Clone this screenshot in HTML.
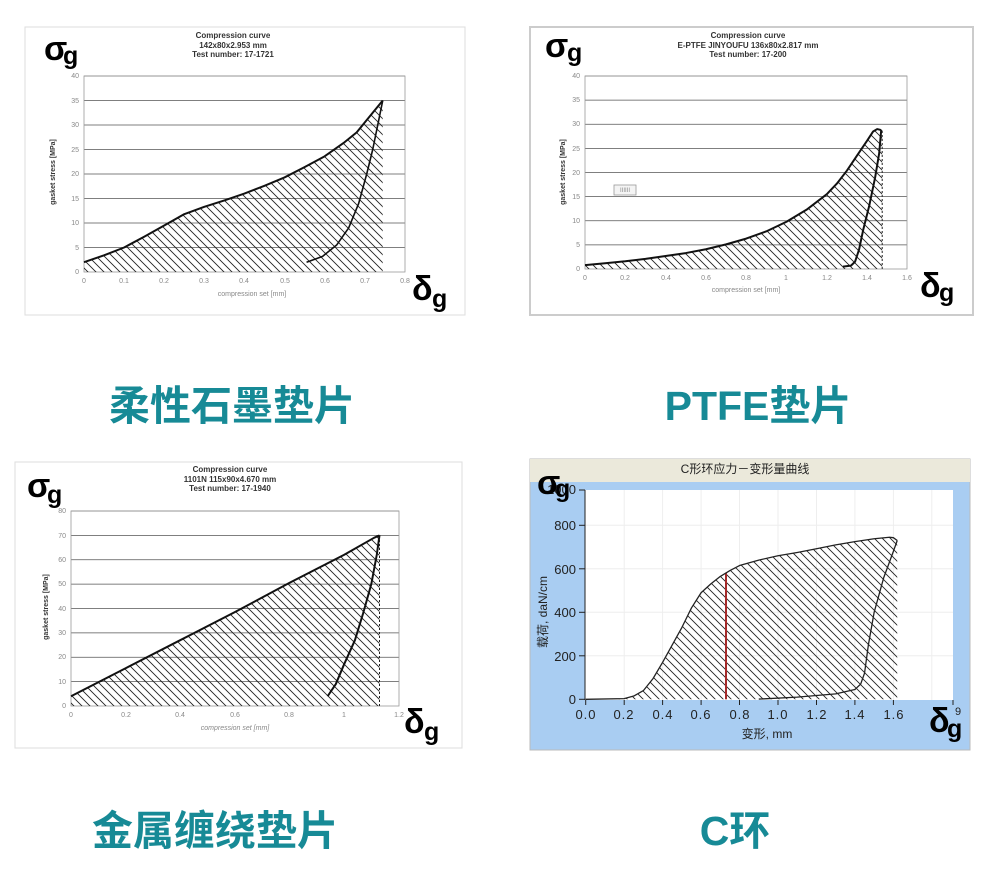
<!DOCTYPE html>
<html><head><meta charset="utf-8"><style>
html,body{margin:0;padding:0;background:#fff;width:989px;height:886px;overflow:hidden}
svg{display:block}
.t{font-family:"Liberation Sans",sans-serif;font-weight:bold;font-size:8px;fill:#333}
.tk{font-family:"Liberation Sans",sans-serif;font-size:7px;fill:#888}
.big{font-family:"Liberation Sans",sans-serif;font-weight:bold;fill:#000}
.cn{font-family:"Liberation Sans","Noto Sans CJK SC",sans-serif;font-weight:bold;font-size:41px;fill:#178a96}
.c4{font-family:"Liberation Sans","Noto Sans CJK SC",sans-serif;font-size:13px;fill:#222}
</style></head><body>
<svg width="989" height="886" viewBox="0 0 989 886" xmlns="http://www.w3.org/2000/svg">
<defs>
<pattern id="h" patternUnits="userSpaceOnUse" width="8" height="8">
<path d="M-2,-2 L10,10 M-2,6 L2,10 M6,-2 L10,2" stroke="#222" stroke-width="0.9"/>
</pattern>
<clipPath id="c1"><polygon transform="matrix(401 0 0 -4.9 84 272)" points="0,2 0.05,3.4 0.1,5 0.15,7.2 0.2,9.5 0.25,11.8 0.3,13.3 0.35,14.6 0.4,16 0.45,17.6 0.5,19.3 0.55,21.4 0.6,23.6 0.65,26.5 0.68,28.5 0.71,31.5 0.745,35 0.745,0 0,0"/></clipPath>
<clipPath id="c2"><polygon transform="matrix(201.5 0 0 -4.825 585 269)" points="0,0.8 0.1,1.2 0.2,1.6 0.3,2.1 0.4,2.7 0.5,3.3 0.6,4.1 0.7,5.1 0.8,6.3 0.9,7.8 1.0,9.8 1.1,12.3 1.2,15.5 1.25,17.7 1.3,20.4 1.35,23.5 1.4,26.6 1.43,28.5 1.45,29 1.475,28.8 1.475,0 0,0"/></clipPath>
<clipPath id="c3"><polygon transform="matrix(273 0 0 -2.4375 71 706)" points="0,4 0.2,15.5 0.4,27 0.6,38.5 0.8,50.5 1.0,62 1.11,69 1.13,70 1.13,0 0,0"/></clipPath>
<clipPath id="c4"><polygon transform="matrix(192.3 0 0 -0.2175 585.7 699.3)" points="0,0 0.2,3 0.25,15 0.3,40 0.35,95 0.4,170 0.45,250 0.5,330 0.55,420 0.6,490 0.65,530 0.7,565 0.75,592 0.8,615 0.9,640 1.0,660 1.1,675 1.2,692 1.3,710 1.4,725 1.5,738 1.58,745 1.6,743 1.62,730 1.62,0"/></clipPath>
</defs>

<!-- Chart 1 -->
<rect x="25" y="27" width="440" height="288" fill="#fff" stroke="#ddd"/>
<text class="t" x="233" y="38" text-anchor="middle">Compression curve</text>
<text class="t" x="233" y="48" text-anchor="middle">142x80x2.953 mm</text>
<text class="t" x="233" y="57" text-anchor="middle">Test number: 17-1721</text>
<g stroke="#555" stroke-width="0.8">
<line x1="84" y1="247.5" x2="405" y2="247.5"/><line x1="84" y1="223" x2="405" y2="223"/><line x1="84" y1="198.5" x2="405" y2="198.5"/><line x1="84" y1="174" x2="405" y2="174"/><line x1="84" y1="149.5" x2="405" y2="149.5"/><line x1="84" y1="125" x2="405" y2="125"/><line x1="84" y1="100.5" x2="405" y2="100.5"/><line x1="84" y1="76" x2="405" y2="76"/>
</g>
<rect x="84" y="76" width="321" height="196" fill="none" stroke="#999" stroke-width="0.8"/>
<rect x="80" y="70" width="330" height="210" fill="url(#h)" clip-path="url(#c1)"/>
<g transform="matrix(401 0 0 -4.9 84 272)" fill="none" stroke="#111" stroke-width="2" vector-effect="non-scaling-stroke" stroke-linejoin="round">
<polyline vector-effect="non-scaling-stroke" points="0,2 0.05,3.4 0.1,5 0.15,7.2 0.2,9.5 0.25,11.8 0.3,13.3 0.35,14.6 0.4,16 0.45,17.6 0.5,19.3 0.55,21.4 0.6,23.6 0.65,26.5 0.68,28.5 0.71,31.5 0.745,35"/>
<polyline vector-effect="non-scaling-stroke" stroke-width="1.6" points="0.745,35 0.735,31 0.72,25 0.705,20 0.685,14 0.66,9 0.63,5.5 0.595,3.2 0.555,2"/>
</g>
<g class="tk" text-anchor="end">
<text x="79" y="274">0</text><text x="79" y="250">5</text><text x="79" y="225">10</text><text x="79" y="201">15</text><text x="79" y="176">20</text><text x="79" y="152">25</text><text x="79" y="127">30</text><text x="79" y="103">35</text><text x="79" y="78">40</text>
</g>
<g class="tk" text-anchor="middle">
<text x="84" y="283">0</text><text x="124" y="283">0.1</text><text x="164" y="283">0.2</text><text x="204" y="283">0.3</text><text x="244" y="283">0.4</text><text x="285" y="283">0.5</text><text x="325" y="283">0.6</text><text x="365" y="283">0.7</text><text x="405" y="283">0.8</text>
</g>
<text class="tk" x="252" y="296" text-anchor="middle" fill="#444">compression set [mm]</text>
<text class="tk" transform="translate(55,172) rotate(-90)" text-anchor="middle" style="fill:#333;font-weight:bold">gasket stress [MPa]</text>
<text class="big" x="44" y="60" font-size="34">σ</text><text class="big" x="63" y="64" font-size="25">g</text>
<text class="big" x="412" y="300" font-size="34">δ</text><text class="big" x="432" y="307" font-size="25">g</text>

<!-- Chart 2 -->
<rect x="530" y="27" width="443" height="288" fill="#fff" stroke="#ccc" stroke-width="2"/>
<text class="t" x="748" y="38" text-anchor="middle">Compression curve</text>
<text class="t" x="748" y="48" text-anchor="middle">E-PTFE JINYOUFU 136x80x2.817 mm</text>
<text class="t" x="748" y="57" text-anchor="middle">Test number: 17-200</text>
<g stroke="#555" stroke-width="0.8">
<line x1="585" y1="244.9" x2="907" y2="244.9"/><line x1="585" y1="220.75" x2="907" y2="220.75"/><line x1="585" y1="196.6" x2="907" y2="196.6"/><line x1="585" y1="172.5" x2="907" y2="172.5"/><line x1="585" y1="148.4" x2="907" y2="148.4"/><line x1="585" y1="124.25" x2="907" y2="124.25"/><line x1="585" y1="100.1" x2="907" y2="100.1"/><line x1="585" y1="76" x2="907" y2="76"/>
</g>
<rect x="585" y="76" width="322" height="193" fill="none" stroke="#999" stroke-width="0.8"/>
<rect x="614" y="185" width="22" height="10" fill="#f4f4f4" stroke="#999" stroke-width="0.8"/>
<text class="tk" x="625" y="192" text-anchor="middle" style="font-size:6px">IIIIII</text>
<rect x="580" y="70" width="330" height="205" fill="url(#h)" clip-path="url(#c2)"/>
<line x1="882.2" y1="269" x2="882.2" y2="130" stroke="#222" stroke-width="1" stroke-dasharray="2,2"/>
<g transform="matrix(201.5 0 0 -4.825 585 269)" fill="none" stroke="#111" stroke-width="2" stroke-linejoin="round">
<polyline vector-effect="non-scaling-stroke" points="0,0.8 0.1,1.2 0.2,1.6 0.3,2.1 0.4,2.7 0.5,3.3 0.6,4.1 0.7,5.1 0.8,6.3 0.9,7.8 1.0,9.8 1.1,12.3 1.2,15.5 1.25,17.7 1.3,20.4 1.35,23.5 1.4,26.6 1.43,28.5 1.45,29 1.47,28.8"/>
<polyline vector-effect="non-scaling-stroke" points="1.47,28.8 1.46,24 1.44,19 1.41,13 1.38,8 1.36,4 1.34,1.5 1.32,0.7 1.28,0.5"/>
</g>
<g class="tk" text-anchor="end">
<text x="580" y="271">0</text><text x="580" y="247">5</text><text x="580" y="223">10</text><text x="580" y="199">15</text><text x="580" y="175">20</text><text x="580" y="151">25</text><text x="580" y="126">30</text><text x="580" y="102">35</text><text x="580" y="78">40</text>
</g>
<g class="tk" text-anchor="middle">
<text x="585" y="280">0</text><text x="625" y="280">0.2</text><text x="666" y="280">0.4</text><text x="706" y="280">0.6</text><text x="746" y="280">0.8</text><text x="786" y="280">1</text><text x="827" y="280">1.2</text><text x="867" y="280">1.4</text><text x="907" y="280">1.6</text>
</g>
<text class="tk" x="746" y="292" text-anchor="middle" fill="#444">compression set [mm]</text>
<text class="tk" transform="translate(565,172) rotate(-90)" text-anchor="middle" style="fill:#333;font-weight:bold">gasket stress [MPa]</text>
<text class="big" x="545" y="57" font-size="34">σ</text><text class="big" x="567" y="61" font-size="25">g</text>
<text class="big" x="920" y="297" font-size="34">δ</text><text class="big" x="939" y="301" font-size="25">g</text>

<!-- Chart 3 -->
<rect x="15" y="462" width="447" height="286" fill="#fff" stroke="#ddd"/>
<text class="t" x="230" y="472" text-anchor="middle">Compression curve</text>
<text class="t" x="230" y="482" text-anchor="middle">1101N 115x90x4.670 mm</text>
<text class="t" x="230" y="491" text-anchor="middle">Test number: 17-1940</text>
<g stroke="#555" stroke-width="0.8">
<line x1="71" y1="681.6" x2="399" y2="681.6"/><line x1="71" y1="657.25" x2="399" y2="657.25"/><line x1="71" y1="632.9" x2="399" y2="632.9"/><line x1="71" y1="608.5" x2="399" y2="608.5"/><line x1="71" y1="584.1" x2="399" y2="584.1"/><line x1="71" y1="559.75" x2="399" y2="559.75"/><line x1="71" y1="535.4" x2="399" y2="535.4"/><line x1="71" y1="511" x2="399" y2="511"/>
</g>
<rect x="71" y="511" width="328" height="195" fill="none" stroke="#999" stroke-width="0.8"/>
<rect x="65" y="505" width="340" height="205" fill="url(#h)" clip-path="url(#c3)"/>
<line x1="379.5" y1="706" x2="379.5" y2="535" stroke="#222" stroke-width="1" stroke-dasharray="2,2"/>
<g transform="matrix(273 0 0 -2.4375 71 706)" fill="none" stroke="#111" stroke-width="2" stroke-linejoin="round">
<polyline vector-effect="non-scaling-stroke" points="0,4 0.2,15.5 0.4,27 0.6,38.5 0.8,50.5 1.0,62 1.11,69 1.13,70"/>
<polyline vector-effect="non-scaling-stroke" points="1.13,70 1.12,62 1.1,50 1.07,38 1.04,27 1.0,17 0.97,9 0.94,4"/>
</g>
<g class="tk" text-anchor="end">
<text x="66" y="708">0</text><text x="66" y="684">10</text><text x="66" y="659">20</text><text x="66" y="635">30</text><text x="66" y="611">40</text><text x="66" y="586">50</text><text x="66" y="562">60</text><text x="66" y="538">70</text><text x="66" y="513">80</text>
</g>
<g class="tk" text-anchor="middle">
<text x="71" y="717">0</text><text x="126" y="717">0.2</text><text x="180" y="717">0.4</text><text x="235" y="717">0.6</text><text x="289" y="717">0.8</text><text x="344" y="717">1</text><text x="399" y="717">1.2</text>
</g>
<text class="tk" x="235" y="730" text-anchor="middle" fill="#444" font-style="italic">compression set [mm]</text>
<text class="tk" transform="translate(48,607) rotate(-90)" text-anchor="middle" style="fill:#333;font-weight:bold">gasket stress [MPa]</text>
<text class="big" x="27" y="497" font-size="34">σ</text><text class="big" x="47" y="503" font-size="25">g</text>
<text class="big" x="404" y="733" font-size="34">δ</text><text class="big" x="424" y="740" font-size="25">g</text>

<!-- Chart 4 -->
<rect x="530" y="459" width="440" height="291" fill="#a9cdf2" stroke="#bbb"/>
<rect x="530" y="459" width="440" height="23" fill="#ebe9db"/>
<text class="c4" x="745" y="473" text-anchor="middle" style="font-size:12px">C形环应力－变形量曲线</text>
<rect x="585" y="490" width="368" height="210" fill="#fff"/>
<g stroke="#eee" stroke-width="1">
<line x1="624.2" y1="490" x2="624.2" y2="700"/><line x1="662.6" y1="490" x2="662.6" y2="700"/><line x1="701.1" y1="490" x2="701.1" y2="700"/><line x1="739.5" y1="490" x2="739.5" y2="700"/><line x1="778" y1="490" x2="778" y2="700"/><line x1="816.5" y1="490" x2="816.5" y2="700"/><line x1="854.9" y1="490" x2="854.9" y2="700"/><line x1="893.4" y1="490" x2="893.4" y2="700"/><line x1="931.8" y1="490" x2="931.8" y2="700"/>
<line x1="585" y1="655.8" x2="953" y2="655.8"/><line x1="585" y1="612.3" x2="953" y2="612.3"/><line x1="585" y1="568.8" x2="953" y2="568.8"/><line x1="585" y1="525.3" x2="953" y2="525.3"/>
</g>
<rect x="580" y="485" width="380" height="220" fill="url(#h)" clip-path="url(#c4)"/>
<line x1="726" y1="699.3" x2="726" y2="573.2" stroke="#a52a2a" stroke-width="2"/>
<g transform="matrix(192.3 0 0 -0.2175 585.7 699.3)" fill="none" stroke="#222" stroke-width="1.3" stroke-linejoin="round">
<polyline vector-effect="non-scaling-stroke" points="0,0 0.2,3 0.25,15 0.3,40 0.35,95 0.4,170 0.45,250 0.5,330 0.55,420 0.6,490 0.65,530 0.7,565 0.75,592 0.8,615 0.9,640 1.0,660 1.1,675 1.2,692 1.3,710 1.4,725 1.5,738 1.58,745 1.6,743 1.62,730"/>
<polyline vector-effect="non-scaling-stroke" points="1.62,730 1.6,680 1.55,560 1.5,400 1.47,250 1.45,120 1.43,70 1.4,45 1.3,25 1.1,10 0.9,1"/>
</g>
<g stroke="#222" stroke-width="1">
<line x1="585" y1="490" x2="585" y2="700"/>
<line x1="579" y1="699.3" x2="585" y2="699.3"/><line x1="579" y1="655.8" x2="585" y2="655.8"/><line x1="579" y1="612.3" x2="585" y2="612.3"/><line x1="579" y1="568.8" x2="585" y2="568.8"/><line x1="579" y1="525.3" x2="585" y2="525.3"/><line x1="579" y1="490" x2="585" y2="490"/>
<line x1="585.7" y1="700" x2="585.7" y2="705"/><line x1="624.2" y1="700" x2="624.2" y2="705"/><line x1="662.6" y1="700" x2="662.6" y2="705"/><line x1="701.1" y1="700" x2="701.1" y2="705"/><line x1="739.5" y1="700" x2="739.5" y2="705"/><line x1="778" y1="700" x2="778" y2="705"/><line x1="816.5" y1="700" x2="816.5" y2="705"/><line x1="854.9" y1="700" x2="854.9" y2="705"/><line x1="893.4" y1="700" x2="893.4" y2="705"/><line x1="953" y1="700" x2="953" y2="705"/>
</g>
<g class="c4" text-anchor="end">
<text x="576" y="704">0</text><text x="576" y="661">200</text><text x="576" y="617">400</text><text x="576" y="574">600</text><text x="576" y="530">800</text><text x="576" y="494">1000</text>
</g>
<g class="c4" text-anchor="middle" style="letter-spacing:1px">
<text x="586" y="719">0.0</text><text x="624" y="719">0.2</text><text x="663" y="719">0.4</text><text x="701" y="719">0.6</text><text x="740" y="719">0.8</text><text x="778" y="719">1.0</text><text x="817" y="719">1.2</text><text x="855" y="719">1.4</text><text x="894" y="719">1.6</text>
</g>
<text class="c4" x="955" y="715" style="font-size:11px">9</text>
<text class="c4" x="767" y="738" text-anchor="middle" style="font-size:12px">变形, mm</text>
<text class="c4" transform="translate(547,612) rotate(-90)" text-anchor="middle" style="font-size:12px">载荷, daN/cm</text>
<text class="big" x="537" y="494" font-size="34">σ</text><text class="big" x="555" y="497" font-size="25">g</text>
<text class="big" x="929" y="732" font-size="34">δ</text><text class="big" x="947" y="737" font-size="25">g</text>

<!-- Labels -->
<text class="cn" x="232" y="420" text-anchor="middle">柔性石墨垫片</text>
<text class="cn" x="758" y="420" text-anchor="middle">PTFE垫片</text>
<text class="cn" x="215" y="845" text-anchor="middle">金属缠绕垫片</text>
<text class="cn" x="735" y="845" text-anchor="middle">C环</text>
</svg>
</body></html>
